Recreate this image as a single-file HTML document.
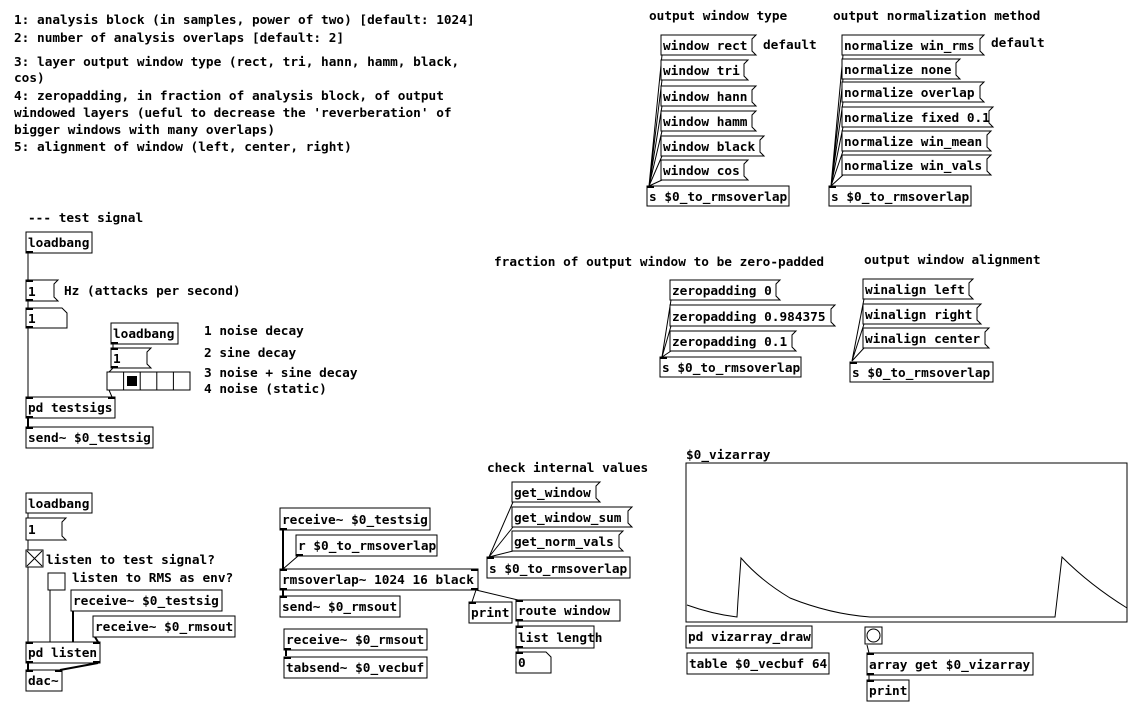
<!DOCTYPE html>
<html><head><meta charset="utf-8"><style>
html,body{margin:0;padding:0;background:#fff;}
svg{display:block}
text{font-family:"DejaVu Sans Mono","Liberation Mono",monospace;font-size:12.75px;font-weight:bold;fill:#000;}
.b{fill:#fff;stroke:#000;stroke-width:1}
.c{stroke:#000;stroke-width:1;fill:none}
.s{stroke:#000;stroke-width:2;fill:none}
</style></head><body>
<svg width="1138" height="716" viewBox="0 0 1138 716" xmlns="http://www.w3.org/2000/svg">
<text x="14" y="24">1: analysis block (in samples, power of two) [default: 1024]</text>
<text x="14" y="42">2: number of analysis overlaps [default: 2]</text>
<text x="14" y="66">3: layer output window type (rect, tri, hann, hamm, black,</text>
<text x="14" y="82">cos)</text>
<text x="14" y="100">4: zeropadding, in fraction of analysis block, of output</text>
<text x="14" y="117">windowed layers (ueful to decrease the 'reverberation' of</text>
<text x="14" y="134">bigger windows with many overlaps)</text>
<text x="14" y="151">5: alignment of window (left, center, right)</text>
<text x="649" y="20">output window type</text>
<text x="833" y="20">output normalization method</text>
<text x="763" y="49">default</text>
<text x="991" y="47">default</text>
<text x="28" y="222">--- test signal</text>
<text x="494" y="266">fraction of output window to be zero-padded</text>
<text x="864" y="264">output window alignment</text>
<text x="487" y="472">check internal values</text>
<text x="686" y="459">$0_vizarray</text>
<text x="64" y="295">Hz (attacks per second)</text>
<text x="204" y="335">1 noise decay</text>
<text x="204" y="357">2 sine decay</text>
<text x="204" y="377">3 noise + sine decay</text>
<text x="204" y="393">4 noise (static)</text>
<text x="46" y="564">listen to test signal?</text>
<text x="72" y="582">listen to RMS as env?</text>

<g class="c">
<path d="M662 55L649 186M662 80L649 186M662 106L649 186M662 131L649 186M662 156L649 186M662 180L649 186"/>
<path d="M843 55L831 186M843 79L831 186M843 102L831 186M843 127L831 186M843 151L831 186M843 175L831 186"/>
<path d="M671 300L662 357M671 326L662 357M671 351L662 357"/>
<path d="M864 299L852 361M864 324L852 361M864 348L852 361"/>
<path d="M513 502L489 557M513 527L489 557M513 551L489 557"/>
<path d="M28 253L28 280M28 301L28 308M28 328L28 397M113 344L113 348M113 368L109 372M109 390L112 397"/>
<path d="M28 513L28 518M28 540L28 550M28 566L28 642M50 589L50 642"/>
<path d="M298 556L283 569M476 590L472 602M476 590L518 600"/>
<path d="M518 621L518 626M518 648L518 652M867 645L869 653M869 675L869 680"/>
</g>
<g class="s">
<path d="M28 418L28 427M73 611L73 642M95 637L98 642M28 663L28 670M98 663L60 670"/>
<path d="M283 530L283 569M283 590L283 596M286 650L286 656"/>
</g>

<g class="b">
<path d="M661 35H756L752 39V51L756 55H661Z"/>
<path d="M661 60H748L744 64V76L748 80H661Z"/>
<path d="M661 86H756L752 90V102L756 106H661Z"/>
<path d="M661 111H756L752 115V127L756 131H661Z"/>
<path d="M661 136H764L760 140V152L764 156H661Z"/>
<path d="M661 160H748L744 164V176L748 180H661Z"/>
<path d="M842 35H984L980 39V51L984 55H842Z"/>
<path d="M842 59H960L956 63V75L960 79H842Z"/>
<path d="M842 82H984L980 86V98L984 102H842Z"/>
<path d="M842 107H993L989 111V123L993 127H842Z"/>
<path d="M842 131H991L987 135V147L991 151H842Z"/>
<path d="M842 155H991L987 159V171L991 175H842Z"/>
<path d="M670 280H780L776 284V296L780 300H670Z"/>
<path d="M670 305H835L831 309V322L835 326H670Z"/>
<path d="M670 331H796L792 335V347L796 351H670Z"/>
<path d="M863 279H973L969 283V295L973 299H863Z"/>
<path d="M863 304H981L977 308V320L981 324H863Z"/>
<path d="M863 328H989L985 332V344L989 348H863Z"/>
<path d="M512 482H600L596 486V498L600 502H512Z"/>
<path d="M512 507H632L628 511V523L632 527H512Z"/>
<path d="M512 531H623L619 535V547L623 551H512Z"/>
<path d="M26 280H58L54 284V297L58 301H26Z"/>
<path d="M111 348H151L147 352V364L151 368H111Z"/>
<path d="M26 518H66L62 522V536L66 540H26Z"/>
<path d="M26 308H62L67 313V328H26Z"/>
<path d="M516 652H546L551 657V673H516Z"/>
<rect x="647" y="186" width="142" height="20"/>
<rect x="829" y="186" width="142" height="20"/>
<rect x="660" y="357" width="141" height="20"/>
<rect x="850" y="362" width="143" height="20"/>
<rect x="487" y="557" width="143" height="21"/>
<rect x="26" y="232" width="66" height="21"/>
<rect x="111" y="323" width="67" height="21"/>
<rect x="26" y="397" width="89" height="21"/>
<rect x="26" y="427" width="127" height="21"/>
<rect x="26" y="493" width="66" height="20"/>
<rect x="71" y="590" width="151" height="21"/>
<rect x="93" y="616" width="142" height="21"/>
<rect x="26" y="642" width="74" height="21"/>
<rect x="26" y="670" width="36" height="21"/>
<rect x="280" y="508" width="150" height="22"/>
<rect x="296" y="535" width="141" height="21"/>
<rect x="280" y="569" width="198" height="21"/>
<rect x="280" y="596" width="120" height="21"/>
<rect x="284" y="629" width="143" height="21"/>
<rect x="284" y="657" width="143" height="21"/>
<rect x="469" y="602" width="43" height="21"/>
<rect x="516" y="600" width="104" height="21"/>
<rect x="516" y="626" width="78" height="22"/>
<rect x="686" y="626" width="126" height="22"/>
<rect x="687" y="653" width="142" height="21"/>
<rect x="867" y="653" width="166" height="22"/>
<rect x="867" y="680" width="42" height="21"/>
<rect x="26" y="550" width="17" height="17"/>
<rect x="48" y="573" width="17" height="17"/>
<rect x="865" y="627" width="17" height="17"/>
<rect x="107" y="372" width="83" height="18"/>
<rect x="686" y="463" width="441" height="159"/>
</g>
<path class="c" d="M27 551L42 566M42 551L27 566"/>
<circle cx="873.5" cy="635.5" r="6.5" fill="#fff" stroke="#000"/>
<path class="c" d="M123.6 372V390M140.2 372V390M156.8 372V390M173.4 372V390"/>
<rect x="127" y="376" width="10" height="10" fill="#000"/>
<path class="c" d="M687 605Q712 614 737 617L738 600L741 558Q760 580 790 598Q830 614 870 617L1055 617Q1057 600 1062 557Q1090 585 1127 608" stroke-width="1.5"/>

<g fill="#000">
<rect x="26" y="251" width="7" height="2"/><rect x="26" y="280" width="7" height="2"/><rect x="26" y="299" width="7" height="2"/><rect x="26" y="308" width="7" height="2"/><rect x="26" y="326" width="7" height="2"/>
<rect x="26" y="397" width="7" height="2"/><rect x="108" y="397" width="7" height="2"/><rect x="26" y="416" width="7" height="2"/><rect x="26" y="427" width="7" height="2"/>
<rect x="111" y="342" width="7" height="2"/><rect x="111" y="348" width="7" height="2"/><rect x="111" y="366" width="7" height="2"/>
<rect x="280" y="528" width="7" height="2"/><rect x="280" y="569" width="7" height="2"/><rect x="471" y="569" width="7" height="2"/><rect x="280" y="588" width="7" height="2"/><rect x="471" y="588" width="7" height="2"/><rect x="280" y="596" width="7" height="2"/>
<rect x="296" y="554" width="7" height="2"/><rect x="284" y="648" width="7" height="2"/><rect x="284" y="657" width="7" height="2"/>
<rect x="26" y="642" width="7" height="2"/><rect x="93" y="642" width="7" height="2"/><rect x="26" y="661" width="7" height="2"/><rect x="93" y="661" width="7" height="2"/><rect x="26" y="670" width="7" height="2"/><rect x="55" y="670" width="7" height="2"/>
<rect x="647" y="186" width="7" height="2"/><rect x="829" y="186" width="7" height="2"/><rect x="660" y="357" width="7" height="2"/><rect x="850" y="362" width="7" height="2"/><rect x="487" y="557" width="7" height="2"/>
<rect x="516" y="600" width="7" height="2"/><rect x="516" y="619" width="7" height="2"/><rect x="516" y="626" width="7" height="2"/><rect x="516" y="646" width="7" height="2"/><rect x="516" y="652" width="7" height="2"/>
<rect x="867" y="653" width="7" height="2"/><rect x="867" y="673" width="7" height="2"/><rect x="867" y="680" width="7" height="2"/><rect x="469" y="602" width="7" height="2"/>
</g>

<text x="663" y="50">window rect</text>
<text x="663" y="75">window tri</text>
<text x="663" y="101">window hann</text>
<text x="663" y="126">window hamm</text>
<text x="663" y="151">window black</text>
<text x="663" y="175">window cos</text>
<text x="649" y="201">s $0_to_rmsoverlap</text>
<text x="844" y="50">normalize win_rms</text>
<text x="844" y="74">normalize none</text>
<text x="844" y="97">normalize overlap</text>
<text x="844" y="122">normalize fixed 0.1</text>
<text x="844" y="146">normalize win_mean</text>
<text x="844" y="170">normalize win_vals</text>
<text x="831" y="201">s $0_to_rmsoverlap</text>
<text x="672" y="295">zeropadding 0</text>
<text x="672" y="321">zeropadding 0.984375</text>
<text x="672" y="346">zeropadding 0.1</text>
<text x="662" y="372">s $0_to_rmsoverlap</text>
<text x="865" y="294">winalign left</text>
<text x="865" y="319">winalign right</text>
<text x="865" y="343">winalign center</text>
<text x="852" y="377">s $0_to_rmsoverlap</text>
<text x="514" y="497">get_window</text>
<text x="514" y="522">get_window_sum</text>
<text x="514" y="546">get_norm_vals</text>
<text x="489" y="573">s $0_to_rmsoverlap</text>
<text x="28" y="247">loadbang</text>
<text x="28" y="296">1</text>
<text x="28" y="323">1</text>
<text x="113" y="338">loadbang</text>
<text x="113" y="363">1</text>
<text x="28" y="412">pd testsigs</text>
<text x="28" y="442">send~ $0_testsig</text>
<text x="28" y="508">loadbang</text>
<text x="28" y="534">1</text>
<text x="73" y="605">receive~ $0_testsig</text>
<text x="95" y="631">receive~ $0_rmsout</text>
<text x="28" y="657">pd listen</text>
<text x="28" y="685">dac~</text>
<text x="282" y="524">receive~ $0_testsig</text>
<text x="298" y="550">r $0_to_rmsoverlap</text>
<text x="282" y="584">rmsoverlap~ 1024 16 black</text>
<text x="282" y="611">send~ $0_rmsout</text>
<text x="286" y="644">receive~ $0_rmsout</text>
<text x="286" y="672">tabsend~ $0_vecbuf</text>
<text x="471" y="617">print</text>
<text x="518" y="615">route window</text>
<text x="518" y="642">list length</text>
<text x="518" y="667">0</text>
<text x="688" y="641">pd vizarray_draw</text>
<text x="689" y="668">table $0_vecbuf 64</text>
<text x="869" y="669">array get $0_vizarray</text>
<text x="869" y="695">print</text>
</svg>
</body></html>
